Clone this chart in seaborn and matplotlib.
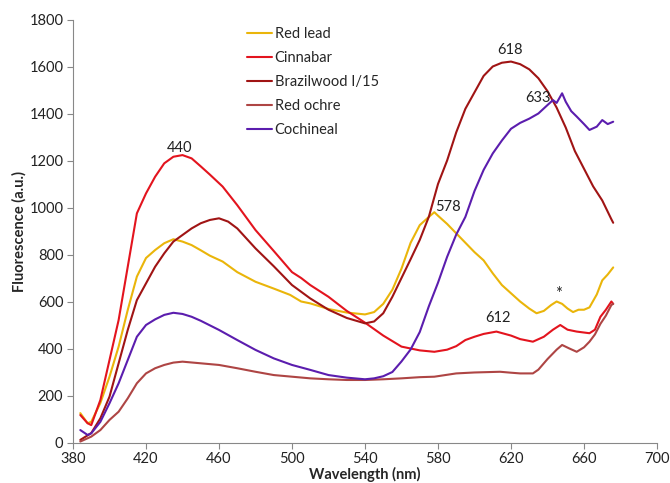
import numpy as np
import pandas as pd
import matplotlib
matplotlib.use("Agg")
import matplotlib.pyplot as plt
import seaborn as sns

# ---- data ----
red_lead_wl = [384, 388, 390, 395, 400, 405, 410, 415, 420, 425, 430, 435, 440, 445, 450, 455,
               462, 470, 480, 490, 499, 505, 510, 520, 530, 540, 545, 550, 555, 560, 565, 570,
               575, 578, 580, 585, 590, 595, 600, 605, 610, 615, 620, 625, 630, 634, 638, 642,
               645, 648, 651, 654, 657, 660, 663, 667, 670, 673, 676]
red_lead = [125, 82, 88, 168, 280, 408, 564, 706, 785, 819, 848, 865, 855, 840, 818, 795,
            770, 725, 684, 655, 628, 600, 592, 568, 553, 545, 555, 590, 650, 740, 850, 925,
            960, 980, 965, 930, 890, 850, 810, 775, 720, 670, 635, 600, 570, 550, 560, 585,
            600, 590, 570, 555, 565, 565, 575, 630, 690, 715, 745]

cinnabar_wl = [384, 388, 390, 395, 400, 405, 410, 415, 420, 425, 430, 435, 440, 445, 450, 455,
               462, 470, 480, 490, 500, 505, 510, 520, 530, 540, 550, 560, 570, 578, 585, 590,
               595, 600, 605, 612, 620, 625, 632, 638, 643, 647, 651, 656, 663, 666, 669, 672,
               675, 676]
cinnabar = [117, 82, 74, 181, 351, 521, 748, 975, 1060, 1131, 1188, 1216, 1223, 1209, 1175, 1140,
            1089, 1010, 904, 815, 725, 700, 670, 620, 560, 510, 455, 408, 392, 386, 395, 410,
            436, 450, 462, 472, 455, 440, 429, 450, 480, 500, 480, 472, 465, 480, 535, 565,
            600, 590]

brazilwood_wl = [384, 390, 395, 400, 405, 410, 415, 420, 425, 430, 435, 440, 445, 450, 455, 460,
                 465, 470, 480, 490, 500, 510, 520, 530, 540, 545, 550, 555, 560, 565, 570, 575,
                 580, 585, 590, 595, 600, 605, 610, 615, 620, 625, 630, 635, 640, 645, 650, 655,
                 660, 665, 670, 675, 676]
brazilwood = [11, 40, 103, 195, 337, 479, 606, 677, 748, 805, 855, 883, 911, 933, 947, 954,
              940, 911, 826, 750, 670, 613, 565, 530, 507, 515, 550, 620, 700, 780, 862, 961,
              1100, 1200, 1320, 1420, 1490, 1560, 1600, 1616, 1621, 1610, 1588, 1550, 1495, 1425, 1340, 1240,
              1165, 1090, 1030, 950, 935]

red_ochre_wl = [384, 388, 390, 395, 400, 405, 410, 415, 420, 425, 430, 435, 440, 450, 460, 470,
                480, 490, 500, 510, 520, 530, 540, 550, 560, 570, 578, 590, 600, 614, 620, 625,
                632, 635, 640, 645, 648, 652, 656, 660, 663, 666, 669, 672, 675, 676]
red_ochre = [4, 18, 25, 53, 96, 131, 188, 252, 294, 316, 330, 340, 344, 337, 330, 316,
             301, 287, 280, 273, 269, 266, 266, 269, 273, 278, 280, 294, 298, 301, 297, 294,
             294, 310, 355, 395, 415, 400, 386, 405, 429, 460, 505, 540, 585, 590]

cochineal_wl = [384, 388, 390, 395, 400, 405, 410, 415, 420, 425, 430, 435, 440, 445, 450, 460,
                470, 480, 490, 500, 510, 520, 530, 540, 545, 550, 555, 560, 565, 570, 575, 580,
                585, 590, 595, 600, 605, 610, 615, 620, 625, 630, 635, 640, 643, 645, 648, 650,
                653, 656, 660, 663, 667, 670, 673, 676]
cochineal = [53, 32, 39, 88, 167, 252, 351, 450, 500, 524, 543, 552, 547, 535, 518, 479,
             436, 394, 358, 330, 309, 287, 276, 269, 273, 282, 300, 345, 396, 470, 580, 680,
             790, 885, 960, 1070, 1160, 1230, 1285, 1335, 1360, 1378, 1400, 1436, 1457, 1445, 1486, 1450,
             1410, 1387, 1355, 1330, 1344, 1372, 1355, 1365]

series_names = ["Red lead", "Cinnabar", "Brazilwood I/15", "Red ochre", "Cochineal"]
series_wl = [red_lead_wl, cinnabar_wl, brazilwood_wl, red_ochre_wl, cochineal_wl]
series_values = [red_lead, cinnabar, brazilwood, red_ochre, cochineal]
colors = ["#EAB50A", "#E3141E", "#A01414", "#AE4544", "#5B1DAE"]

x_ticks = [380, 420, 460, 500, 540, 580, 620, 660, 700]
y_ticks = [0, 200, 400, 600, 800, 1000, 1200, 1400, 1600, 1800]

# peak labels: text and where it sits (data coordinates)
peak_labels = [("440", 438.6, 1255), ("618", 619.5, 1670), ("633", 634.8, 1468),
               ("578", 585.5, 1002), ("612", 612.9, 530), ("*", 645.8, 630)]

# ---- long-form table ----
rows = []
for name, wls, vals in zip(series_names, series_wl, series_values):
    for w, v in zip(wls, vals):
        rows.append({"Wavelength": w, "Fluorescence": v, "Pigment": name})
df = pd.DataFrame(rows)

sns.set_style("white")
plt.rcParams["font.family"] = ["Lato", "DejaVu Sans"]

fig = plt.figure(figsize=(6.70, 4.83), dpi=100)
ax = fig.add_axes([73 / 670, 1 - 442.5 / 483, (657 - 73) / 670, (442.5 - 19.5) / 483])

sns.lineplot(data=df, x="Wavelength", y="Fluorescence", hue="Pigment",
             hue_order=series_names, palette=colors, linewidth=1.5, ax=ax,
             estimator=None, sort=True)

ax.set_xlim(380, 700)
ax.set_ylim(0, 1800)
ax.set_xticks(x_ticks)
ax.set_yticks(y_ticks)
ax.tick_params(axis="both", which="both", direction="out", length=4, width=0.8,
               color="#888888", labelsize=10.5, labelcolor="#222222", pad=3,
               bottom=True, left=True)
for side in ["top", "right"]:
    ax.spines[side].set_visible(False)
for side in ["left", "bottom"]:
    ax.spines[side].set_color("#888888")
    ax.spines[side].set_linewidth(0.8)

ax.set_xlabel("Wavelength (nm)", fontsize=10.5, fontweight="bold", labelpad=0.5)
ax.set_ylabel("Fluorescence (a.u.)", fontsize=10.5, fontweight="bold", labelpad=2)

for text, xv, yv in peak_labels:
    ax.text(xv, yv, text, ha="center", va="center",
            fontsize=12 if text == "*" else 10.5, color="#222222")

leg = ax.legend(loc="upper left", bbox_to_anchor=(247 / 670, 1 - 27 / 483),
                bbox_transform=fig.transFigure, frameon=False, fontsize=10.5,
                handlelength=1.7, handletextpad=0.2, labelspacing=0.68,
                borderpad=0, borderaxespad=0)
for line in leg.get_lines():
    line.set_linewidth(1.5)

fig.savefig("out.png", dpi=100)
